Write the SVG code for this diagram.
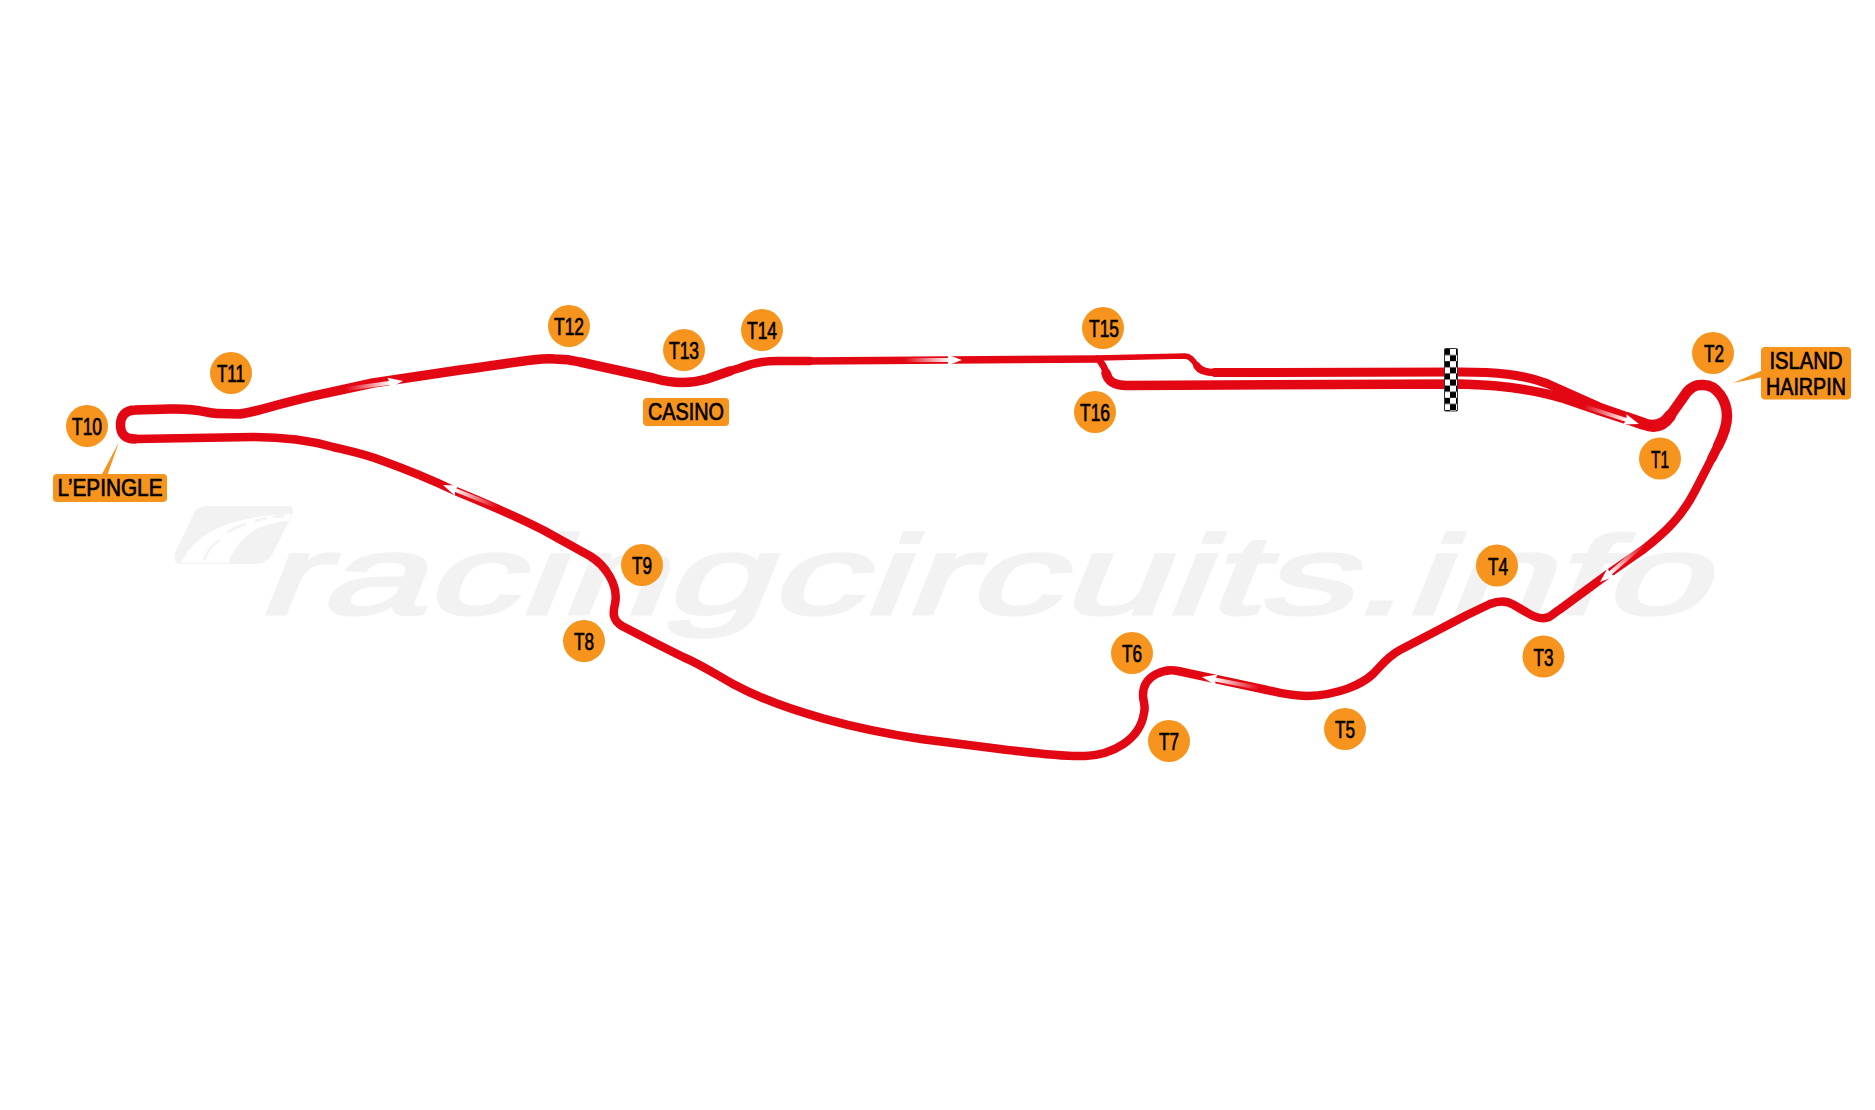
<svg xmlns="http://www.w3.org/2000/svg" width="1875" height="1110" viewBox="0 0 1875 1110">
<style>
.trk{fill:none;stroke:#e30613;stroke-linecap:round;stroke-linejoin:round}
.org{fill:#f7941d}
.lb{font-family:"Liberation Sans",Arial,sans-serif;font-size:24.5px;fill:#000;text-anchor:middle;stroke:#000;stroke-width:.7}
.wm{fill:#f2f2f2;stroke:#f2f2f2;stroke-width:3}
</style>
<defs>
<linearGradient id="fade" x1="0" y1="0" x2="1" y2="0"><stop offset="0" stop-color="#fff" stop-opacity="0"/><stop offset="1" stop-color="#fff"/></linearGradient>
<g id="arrow"><rect x="-58" y="-2" width="46" height="4" fill="url(#fade)"/><polygon points="0,0 -15,-5.500 -13,0 -15,5.500" fill="#fff"/></g>
<pattern id="chk" x="1444" y="349" width="12" height="12.200" patternUnits="userSpaceOnUse"><rect width="12" height="12.200" fill="#fff"/><rect width="6" height="6.100" fill="#000"/><rect x="6" y="6.100" width="6" height="6.100" fill="#000"/></pattern>
</defs>
<g id="watermark">
<path fill="#f2f2f2" d="M195 511Q199 506 208 506L288 506Q294 506 293 513L273 553Q267 564 257 564L180 564Q173 564 175 553Z"/>
<path fill="#fff" d="M181 563C195 535 225 516 292 514L288 521C255 524 241 535 228 563Z"/>
<path d="M204 560Q210 545 220 540M227 533Q235 527 246 524M255 521L267 518M273 517L284 516" fill="none" stroke="#f2f2f2" stroke-width="2.500"/>
<text class="wm" transform="translate(255 614) skewX(-22)" x="0" y="0" font-family="'Liberation Sans',Arial,sans-serif" font-size="112" textLength="1450" lengthAdjust="spacingAndGlyphs">racingcircuits.info</text>
</g>
<g id="connectors">
<path class="trk" stroke-width="8.500" d="M135 439L253 437C280 437 305 439 333 447C350 451 365 454 383 461C405 469 430 479 453 490C485 503 515 516 543 530L590 556C605 565 619 585 615 604C613 612 612 620 622 626L657 644L683 657C700 664 715 674 733 684C785 712 860 730 921 739L1000 749C1035 753 1060 757 1085 756C1112 755 1140 740 1144 713C1146 705 1143 702 1143 695C1143 675 1165 668 1178 671L1267 690C1275 692 1290 696 1307 696C1340 695 1362 684 1373 674C1380 667 1388 656 1400 650L1467 615L1490 604C1500 600 1508 601 1514 605L1526 612C1534 617 1542 620 1549 617C1553 615 1555 612 1559 610L1608 574L1644 549C1667 531 1682 516 1695 491L1712 458"/>
<path class="trk" stroke-width="9.500" d="M1712 458L1718 446"/>
<path class="trk" stroke-width="9.500" d="M135 439C125 439 120.500 434 120.500 425C120.500 416 125 410 135 410L170 409C200 408 205 413 217 413.500L238 414C250 414 262 408 313 396L373 383L460 370C520 362 535 358 555 359C565 359 572 360 580 362L653 378C670 383 690 384 707 379L730 371"/>
<path class="trk" stroke-width="8.500" d="M730 371L740 368C752 363 765 361 777 361L810 361"/>
<path class="trk" stroke-width="7.500" d="M810 361L1097 359"/>
<path class="trk" stroke-width="5.500" d="M1097 358L1185 356C1191 356 1194 362 1197 366"/>
<path class="trk" stroke-width="7.500" d="M1197 366C1200 371 1206 372.500 1215 372.500"/>
<path class="trk" stroke-width="9" d="M1215 372.500L1460 372C1495 372 1522 374 1547 383.500L1602 408L1628 417"/>
<path class="trk" stroke-width="7" d="M1100 361C1103 365 1105 368 1106 373"/>
<path class="trk" stroke-width="9.500" d="M1106 373C1108 381 1113 385.500 1127 385.500L1460 384C1506 385 1536 390 1564 398.500L1602 411.500L1628 420"/>
<path class="trk" stroke-width="12" d="M1628 418.500L1644 424C1657 429 1665 423 1670 416"/>
<path class="trk" stroke-width="10.500" d="M1670 416L1687 392C1694 384 1700 385 1702 385C1717 384 1727 401 1727 416C1727 426 1722 438 1718 446"/>
<use href="#arrow" transform="translate(1639 424) rotate(18)"/>
<use href="#arrow" transform="translate(1600 582) rotate(139)"/>
<use href="#arrow" transform="translate(1202 677) rotate(191)"/>
<use href="#arrow" transform="translate(443 485) rotate(202)"/>
<use href="#arrow" transform="translate(403 381) rotate(-8)"/>
<use href="#arrow" transform="translate(962 360)"/>
</g>
<g id="start-finish">
<rect x="1444.500" y="348.500" width="13" height="62.500" rx="1" fill="url(#chk)" stroke="#333" stroke-width="1"/>
</g>
<g id="T1"><circle class="org" cx="1660" cy="458.500" r="21"/><text class="lb" x="1660" y="467.500" textLength="18" lengthAdjust="spacingAndGlyphs">T1</text></g>
<g id="T2"><circle class="org" cx="1713" cy="353" r="21"/><text class="lb" x="1714" y="362" textLength="20" lengthAdjust="spacingAndGlyphs">T2</text></g>
<g id="T3"><circle class="org" cx="1543.500" cy="656.500" r="21"/><text class="lb" x="1543.500" y="665.500" textLength="20" lengthAdjust="spacingAndGlyphs">T3</text></g>
<g id="T4"><circle class="org" cx="1497" cy="565.500" r="21"/><text class="lb" x="1498" y="574.500" textLength="20" lengthAdjust="spacingAndGlyphs">T4</text></g>
<g id="T5"><circle class="org" cx="1345" cy="729" r="21"/><text class="lb" x="1345" y="738" textLength="20" lengthAdjust="spacingAndGlyphs">T5</text></g>
<g id="T6"><circle class="org" cx="1132" cy="653" r="21"/><text class="lb" x="1132" y="662" textLength="20" lengthAdjust="spacingAndGlyphs">T6</text></g>
<g id="T7"><circle class="org" cx="1169" cy="741" r="21"/><text class="lb" x="1169" y="750" textLength="20" lengthAdjust="spacingAndGlyphs">T7</text></g>
<g id="T8"><circle class="org" cx="584" cy="641" r="21"/><text class="lb" x="584" y="650" textLength="20" lengthAdjust="spacingAndGlyphs">T8</text></g>
<g id="T9"><circle class="org" cx="642" cy="565" r="21"/><text class="lb" x="642" y="574" textLength="20" lengthAdjust="spacingAndGlyphs">T9</text></g>
<g id="T10"><circle class="org" cx="87" cy="426" r="21"/><text class="lb" x="87" y="435" textLength="30" lengthAdjust="spacingAndGlyphs">T10</text></g>
<g id="T11"><circle class="org" cx="231" cy="373" r="21"/><text class="lb" x="231" y="382" textLength="28" lengthAdjust="spacingAndGlyphs">T11</text></g>
<g id="T12"><circle class="org" cx="569" cy="326" r="21"/><text class="lb" x="569" y="335" textLength="30" lengthAdjust="spacingAndGlyphs">T12</text></g>
<g id="T13"><circle class="org" cx="684" cy="350" r="21"/><text class="lb" x="684" y="359" textLength="30" lengthAdjust="spacingAndGlyphs">T13</text></g>
<g id="T14"><circle class="org" cx="762" cy="330" r="21"/><text class="lb" x="762" y="339" textLength="30" lengthAdjust="spacingAndGlyphs">T14</text></g>
<g id="T15"><circle class="org" cx="1103" cy="328" r="21"/><text class="lb" x="1104" y="337" textLength="30" lengthAdjust="spacingAndGlyphs">T15</text></g>
<g id="T16"><circle class="org" cx="1095" cy="412" r="21"/><text class="lb" x="1095" y="421" textLength="30" lengthAdjust="spacingAndGlyphs">T16</text></g>
<g id="island-hairpin"><polygon class="org" points="1733,383 1763,370 1763,377"/><rect class="org" x="1761" y="347" width="90" height="52.500" rx="4"/><text class="lb" x="1806" y="369" textLength="73" lengthAdjust="spacingAndGlyphs">ISLAND</text><text class="lb" x="1806" y="394.500" textLength="80" lengthAdjust="spacingAndGlyphs">HAIRPIN</text></g>
<g id="lepingle"><polygon class="org" points="119,442 101,476 107,476"/><rect class="org" x="53" y="474" width="114" height="28" rx="4"/><text class="lb" x="110" y="496" textLength="105" lengthAdjust="spacingAndGlyphs">L’EPINGLE</text></g>
<g id="casino"><rect class="org" x="643" y="398" width="86" height="28" rx="4"/><text class="lb" x="686" y="420" textLength="76" lengthAdjust="spacingAndGlyphs">CASINO</text></g>
</svg>
